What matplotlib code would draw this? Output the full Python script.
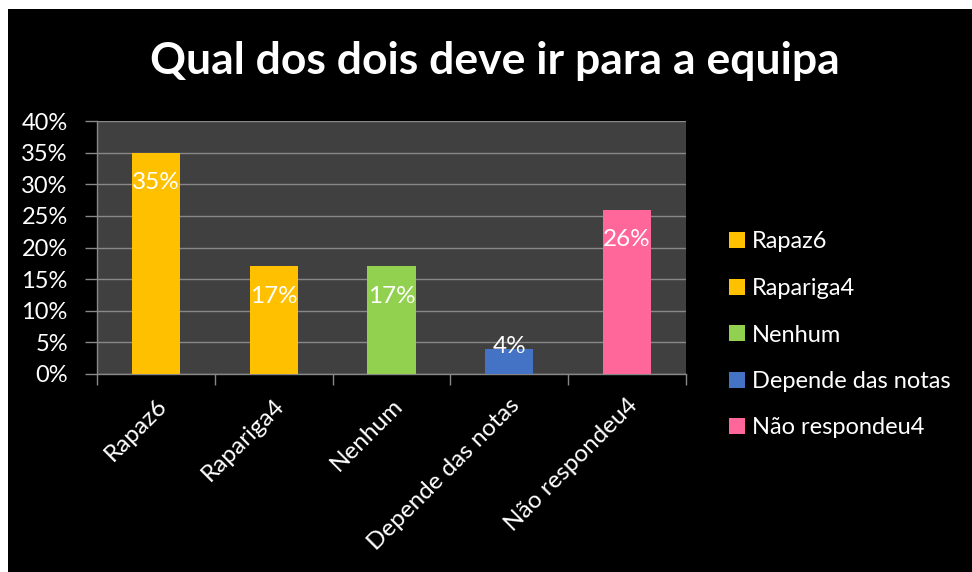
import matplotlib
matplotlib.use('Agg')
import matplotlib.pyplot as plt
from matplotlib.patches import Rectangle, Patch
from matplotlib.ticker import FixedLocator

# data
categories = ['Rapaz6', 'Rapariga4', 'Nenhum', 'Depende das notas', 'Não respondeu4']
values = [0.35, 0.17, 0.17, 0.04, 0.26]
labels = ['35%', '17%', '17%', '4%', '26%']
colors = ['#FFC000', '#FFC000', '#92D050', '#4472C4', '#FF6699']
yticks = [0, 0.05, 0.10, 0.15, 0.20, 0.25, 0.30, 0.35, 0.40]
yticklabels = ['0%', '5%', '10%', '15%', '20%', '25%', '30%', '35%', '40%']

plt.rcParams['font.family'] = ['Lato', 'DejaVu Sans']

fig = plt.figure(figsize=(9.72, 5.72), dpi=100)
fig.patch.set_facecolor('white')
fig.patches.append(Rectangle((8 / 972, 0), 1, 1 - 9 / 572, transform=fig.transFigure,
                             facecolor='black', edgecolor='none', zorder=-1))

ax = fig.add_axes([97 / 972, 1 - 374 / 572, 589 / 972, 253 / 572])
ax.set_facecolor('#404040')

x = list(range(len(categories)))
bars = ax.bar(x, values, width=0.41, color=colors, zorder=3)

for xi, v, lab in zip(x, values, labels):
    ax.text(xi, max(v - 0.0475, 0.043), lab, ha='center', va='center',
            color='white', fontsize=17.5, zorder=4)

ax.set_xlim(-0.5, len(categories) - 0.5)
ax.set_ylim(0, 0.40)
ax.set_yticks(yticks)
ax.set_yticklabels(yticklabels, color='white', fontsize=17)
ax.yaxis.grid(True, color='#888888', linewidth=1, zorder=0)
ax.set_axisbelow(True)

ax.set_xticks(x)
ax.set_xticklabels(categories, rotation=45, ha='right', rotation_mode='anchor',
                   color='white', fontsize=17.5)
ax.xaxis.set_minor_locator(FixedLocator([i - 0.5 for i in range(len(categories) + 1)]))
ax.tick_params(axis='x', which='major', length=0, pad=15)
ax.tick_params(axis='x', which='minor', length=8, color='#888888', width=1)
ax.tick_params(axis='y', length=9, color='#888888', width=1, pad=12)

for s in ['top', 'right']:
    ax.spines[s].set_visible(False)
for s in ['left', 'bottom']:
    ax.spines[s].set_color('#888888')
    ax.spines[s].set_linewidth(1)

fig.text(0.509, 1 - 61 / 572, 'Qual dos dois deve ir para a equipa', ha='center',
         va='center', color='white', fontsize=32, fontweight='bold')

handles = [Patch(facecolor=c, edgecolor='none') for c in colors]
leg = fig.legend(handles, categories, loc='center left', bbox_to_anchor=(708 / 972, 1 - 335 / 572),
                 frameon=False, fontsize=17, handlelength=0.65, handleheight=0.65,
                 handletextpad=0.3, labelspacing=1.08, labelcolor='white')

fig.savefig('out.png', dpi=100, facecolor=fig.get_facecolor())
